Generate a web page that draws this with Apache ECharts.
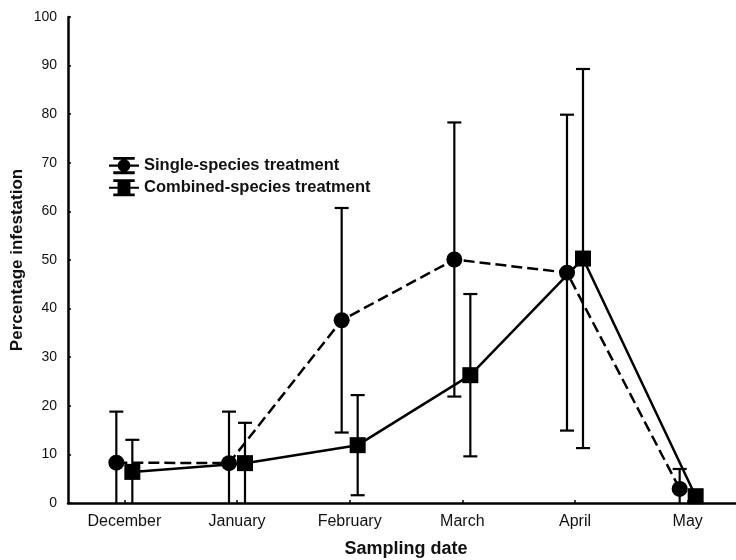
<!DOCTYPE html>
<html>
<head>
<meta charset="utf-8">
<script src="https://cdn.jsdelivr.net/npm/echarts@6/dist/echarts.min.js"></script>
<style>html,body{margin:0;padding:0;background:#fff}#c{width:736px;height:560px}</style>
</head>
<body>
<div id="c"></div>
<script>
var categories = ['December', 'January', 'February', 'March', 'April', 'May'];
var singleMean = [8.3, 8.2, 37.6, 50.1, 47.4, 2.9];
var singleErr = [10.5, 10.6, 23.1, 28.2, 32.5, 4.1];
var combinedMean = [6.4, 8.2, 11.9, 26.3, 50.3, 1.4];
var combinedErr = [6.6, 8.3, 10.3, 16.7, 39.0, 0.5];
var yTicks = [0, 10, 20, 30, 40, 50, 60, 70, 80, 90, 100];

var OFF = 0.071;
var FONT = 'Liberation Sans, Arial, sans-serif';
var singleName = 'Single-species treatment';
var combinedName = 'Combined-species treatment';

function lineData(mean, off) {
  return mean.map(function (v, i) { return [i + off, v]; });
}
function errData(mean, err, off) {
  return mean.map(function (v, i) {
    return [i + off, Math.max(0, v - err[i]), v + err[i]];
  });
}
function renderErr(params, api) {
  var x = api.value(0);
  var lo = api.value(1), hi = api.value(2);
  var pLo = api.coord([x, lo]);
  var pHi = api.coord([x, hi]);
  var w = 7;
  var st = { stroke: '#000', lineWidth: 2.2 };
  var ch = [
    { type: 'line', shape: { x1: pLo[0], y1: pLo[1], x2: pHi[0], y2: pHi[1] }, style: st },
    { type: 'line', shape: { x1: pHi[0] - w, y1: pHi[1], x2: pHi[0] + w, y2: pHi[1] }, style: st }
  ];
  if (lo > 0) {
    ch.push({ type: 'line', shape: { x1: pLo[0] - w, y1: pLo[1], x2: pLo[0] + w, y2: pLo[1] }, style: st });
  }
  return { type: 'group', children: ch };
}

var iconCircle = 'path://M4,0L24,0L24,2.6L4,2.6Z M13,0L15,0L15,16L13,16Z M0,7L28,7L28,9L0,9Z M4,13.4L24,13.4L24,16L4,16Z M8,8A6,6 0 1,1 20,8A6,6 0 1,1 8,8Z';
var iconSquare = 'path://M4,0L24,0L24,2.6L4,2.6Z M13,0L15,0L15,16L13,16Z M0,7L28,7L28,9L0,9Z M4,13.4L24,13.4L24,16L4,16Z M8,2.5L20,2.5L20,13.5L8,13.5Z';

var chart = echarts.init(document.getElementById('c'));
chart.setOption({
  animation: false,
  backgroundColor: '#fff',
  color: ['#000', '#000'],
  textStyle: { fontFamily: FONT },
  grid: { left: 68, right: -8, top: 17, bottom: 57, containLabel: false, outerBoundsMode: 'none' },
  legend: {
    left: 104, top: 152, orient: 'vertical', itemWidth: 30, itemHeight: 18, itemGap: 5,
    textStyle: { fontFamily: FONT, fontSize: 16.5, fontWeight: 'bold', color: '#111', padding: [0, 0, 0, 0] },
    data: [
      { name: singleName, icon: iconCircle, itemStyle: { color: '#000' } },
      { name: combinedName, icon: iconSquare, itemStyle: { color: '#000' } }
    ]
  },
  xAxis: [
    {
      type: 'category', data: categories, boundaryGap: true,
      axisLine: { lineStyle: { color: '#000', width: 2.5 } },
      axisTick: { show: true, alignWithLabel: true, inside: true, length: 3, lineStyle: { color: '#000', width: 1.5 } },
      axisLabel: { fontFamily: FONT, fontSize: 16, color: '#111', margin: 11 },
      splitLine: { show: false },
      name: 'Sampling date', nameLocation: 'middle', nameGap: 37,
      nameTextStyle: { fontFamily: FONT, fontSize: 18, fontWeight: 'bold', color: '#111' }
    },
    { type: 'value', min: -0.5, max: 5.5, show: false, gridIndex: 0 }
  ],
  yAxis: {
    type: 'value', min: 0, max: 100, interval: 10,
    axisLine: { show: true, onZero: false, lineStyle: { color: '#000', width: 2.5 } },
    axisTick: { show: true, inside: true, length: 3, lineStyle: { color: '#000', width: 1.5 } },
    axisLabel: { fontFamily: FONT, fontSize: 14, color: '#111', margin: 11,
      formatter: function (v) { return yTicks.indexOf(v) >= 0 ? String(v) : ''; } },
    splitLine: { show: false },
    name: 'Percentage infestation', nameLocation: 'middle', nameGap: 42, nameRotate: 90,
    nameMoveOverlap: false,
    nameTextStyle: { fontFamily: FONT, fontSize: 17, fontWeight: 'bold', color: '#111' }
  },
  series: [
    {
      name: singleName, type: 'custom', xAxisIndex: 1, renderItem: renderErr,
      itemStyle: { color: '#000' },
      data: errData(singleMean, singleErr, -OFF), z: 2, silent: true
    },
    {
      name: combinedName, type: 'custom', xAxisIndex: 1, renderItem: renderErr,
      itemStyle: { color: '#000' },
      data: errData(combinedMean, combinedErr, OFF), z: 2, silent: true
    },
    {
      name: singleName, type: 'line', xAxisIndex: 1, data: lineData(singleMean, -OFF),
      symbol: 'circle', symbolSize: 16, showSymbol: true,
      itemStyle: { color: '#000' },
      lineStyle: { color: '#000', width: 2.5, type: [11, 5] }, z: 3
    },
    {
      name: combinedName, type: 'line', xAxisIndex: 1, data: lineData(combinedMean, OFF),
      symbol: 'rect', symbolSize: 16, showSymbol: true,
      itemStyle: { color: '#000' },
      lineStyle: { color: '#000', width: 2.5, type: 'solid' }, z: 3
    }
  ]
});
</script>
</body>
</html>
